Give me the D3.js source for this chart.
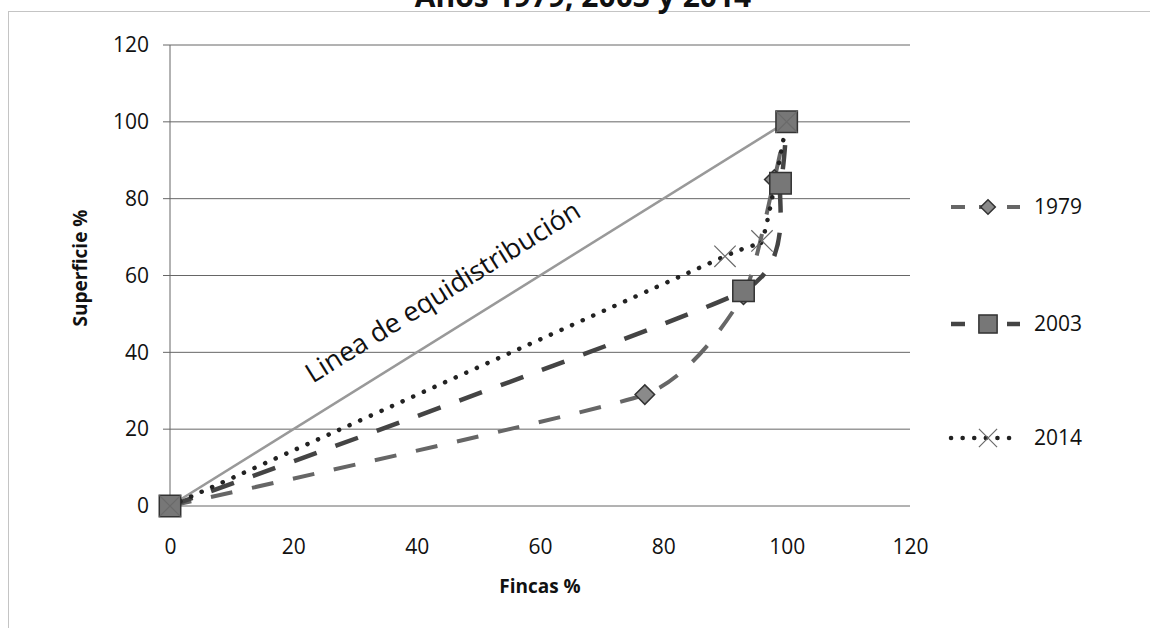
<!DOCTYPE html>
<html>
<head>
<meta charset="utf-8">
<script src="https://cdn.jsdelivr.net/npm/d3@7"></script>
<style>
  body { margin: 0; background: #fff; }
  text { font-family: "Open Sans", sans-serif; fill: #111; }
</style>
</head>
<body>
<script>
// Lorenz curve data (Fincas % vs Superficie %)
var years = ["1979", "2003", "2014"];
var fincas1979 = [0, 77, 93, 98, 100];
var superficie1979 = [0, 29, 55, 85, 100];
var fincas2003 = [0, 93, 99, 100];
var superficie2003 = [0, 56, 84, 100];
var fincas2014 = [0, 90, 96, 100];
var superficie2014 = [0, 65, 69, 100];
var equiX = [0, 100];
var equiY = [0, 100];
var ticks = [0, 20, 40, 60, 80, 100, 120];

function init() {
    var w = 1150;
    var h = 628;

    var svg = d3.select("body")
        .append("svg")
        .attr("width", w)
        .attr("height", h);

    // outer chart border (dotted)
    svg.append("rect")
        .attr("x", 8.5).attr("y", 11.5)
        .attr("width", 1200).attr("height", 700)
        .attr("fill", "none")
        .attr("stroke", "#888")
        .attr("stroke-dasharray", "1 1");

    // title, mostly cropped off the top as in the scan
    svg.append("text")
        .attr("x", 583).attr("y", 7)
        .attr("text-anchor", "middle")
        .style("font-size", "30px")
        .style("font-weight", "bold")
        .text("Años 1979, 2003 y 2014");

    var x = d3.scaleLinear().domain([0, 120]).range([170, 910]);
    var y = d3.scaleLinear().domain([0, 120]).range([506, 45]);

    // gridlines
    svg.selectAll("line.grid")
        .data(ticks)
        .enter()
        .append("line")
        .attr("class", "grid")
        .attr("x1", 163).attr("x2", x(120))
        .attr("y1", function(d) { return y(d); })
        .attr("y2", function(d) { return y(d); })
        .attr("stroke", "#666")
        .attr("stroke-width", 1);

    // vertical axis line
    svg.append("line")
        .attr("x1", x(0)).attr("x2", x(0))
        .attr("y1", y(120)).attr("y2", y(0))
        .attr("stroke", "#666");

    var yAxis = d3.axisLeft(y).tickValues(ticks).tickSize(0).tickPadding(21);
    var gy = svg.append("g").attr("transform", "translate(" + x(0) + ",0)").call(yAxis);
    gy.select(".domain").remove();
    gy.selectAll("text").style("font-size", "21px").style("font-family", "Open Sans, sans-serif");

    var xAxis = d3.axisBottom(x).tickValues(ticks).tickSize(0).tickPadding(33);
    var gx = svg.append("g").attr("transform", "translate(0," + y(0) + ")").call(xAxis);
    gx.select(".domain").remove();
    gx.selectAll("text").style("font-size", "21px").style("font-family", "Open Sans, sans-serif");

    // axis titles
    svg.append("text")
        .attr("x", 540).attr("y", 593)
        .attr("text-anchor", "middle")
        .style("font-size", "19px").style("font-weight", "bold")
        .text("Fincas %");
    svg.append("text")
        .attr("transform", "translate(87,268) rotate(-90)")
        .attr("text-anchor", "middle")
        .style("font-size", "19px").style("font-weight", "bold")
        .text("Superficie %");

    // line of equal distribution
    var equi = equiX.map(function(d, i) { return [d, equiY[i]]; });
    svg.append("path")
        .datum(equi)
        .attr("d", d3.line().x(function(d) { return x(d[0]); }).y(function(d) { return y(d[1]); }))
        .attr("fill", "none")
        .attr("stroke", "#999")
        .attr("stroke-width", 2.5);

    var ang = Math.atan2(y(100) - y(0), x(100) - x(0)) * 180 / Math.PI;
    svg.append("text")
        .attr("transform", "translate(" + (x(23) + 1) + "," + (y(23) - 34) + ") rotate(" + ang + ")")
        .style("font-size", "27px")
        .text("Linea de equidistribución");

    var series = [
        { name: years[0], xs: fincas1979, ys: superficie1979, color: "#666", dash: "22 20", cap: "butt", width: 4, marker: "diamond" },
        { name: years[1], xs: fincas2003, ys: superficie2003, color: "#444", dash: "24 20", cap: "butt", width: 4.5, marker: "square" },
        { name: years[2], xs: fincas2014, ys: superficie2014, color: "#222", dash: "0.1 11.5", cap: "round", width: 4.5, marker: "x" }
    ];

    var line = d3.line()
        .x(function(d) { return x(d[0]); })
        .y(function(d) { return y(d[1]); })
        .curve(d3.curveCardinal.tension(0.5));

    function drawMarker(g, type, cx, cy, scale) {
        if (type === "diamond") {
            g.append("path")
                .attr("d", d3.symbol().type(d3.symbolSquare).size(190 * scale * scale)())
                .attr("transform", "translate(" + cx + "," + cy + ") rotate(45)")
                .attr("fill", "#8a8a8a").attr("stroke", "#333").attr("stroke-width", 1.5);
        } else if (type === "square") {
            g.append("path")
                .attr("d", d3.symbol().type(d3.symbolSquare).size(460 * scale * scale)())
                .attr("transform", "translate(" + cx + "," + cy + ")")
                .attr("fill", "#777").attr("stroke", "#333").attr("stroke-width", 1.5);
        } else {
            g.append("path")
                .attr("d", d3.symbol().type(d3.symbolX).size(300 * scale * scale)())
                .attr("transform", "translate(" + cx + "," + cy + ")")
                .attr("fill", "none").attr("stroke", "#6a6a6a").attr("stroke-width", 1.2);
        }
    }

    series.forEach(function(s) {
        var pts = s.xs.map(function(d, i) { return [d, s.ys[i]]; });
        svg.append("path")
            .datum(pts)
            .attr("d", line)
            .attr("fill", "none")
            .attr("stroke", s.color)
            .attr("stroke-width", s.width)
            .attr("stroke-dasharray", s.dash)
            .attr("stroke-linecap", s.cap);
    });

    series.forEach(function(s) {
        var g = svg.append("g");
        s.xs.forEach(function(d, i) {
            drawMarker(g, s.marker, x(d), y(s.ys[i]), 1);
        });
    });

    // legend
    var legY = [207, 324, 438];
    series.forEach(function(s, i) {
        var g = svg.append("g").attr("transform", "translate(0," + legY[i] + ")");
        g.append("line")
            .attr("x1", 951).attr("x2", 1020)
            .attr("stroke", s.color)
            .attr("stroke-width", s.width)
            .attr("stroke-dasharray", s.marker === "x" ? "0.1 11.5" : "14 14")
            .attr("stroke-linecap", s.cap);
        drawMarker(g, s.marker, 988, 0, s.marker === "diamond" ? 0.75 : 0.85);
        g.append("text")
            .attr("x", 1034).attr("y", 0).attr("dy", "0.35em")
            .style("font-size", "21px")
            .text(s.name);
    });
}
window.onload = init;
</script>
</body>
</html>
